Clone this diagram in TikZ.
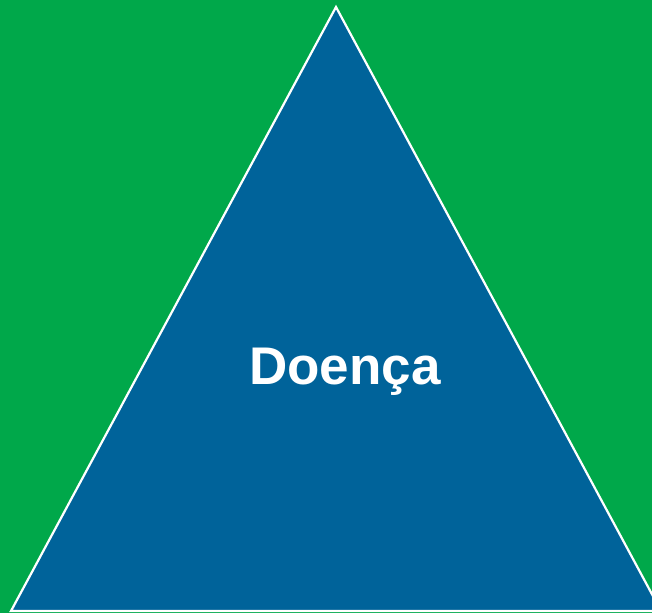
\documentclass[tikz,border=0pt]{standalone}
\usepackage{fontspec}
\setmainfont{Liberation Sans}
\definecolor{bggreen}{RGB}{0,168,74}
\definecolor{triblue}{RGB}{0,99,154}
\begin{document}
\begin{tikzpicture}[x=1pt,y=1pt]
\useasboundingbox (0,0) rectangle (652,613);
\fill[bggreen] (0,0) rectangle (652,613);
\begin{scope}
\clip (0,0) rectangle (652,613);
\draw[white, line width=2.2pt, fill=triblue, line join=miter] (336,606) -- (661,2) -- (11,2) -- cycle;
\end{scope}
\node[anchor=base, text=white, font=\bfseries\fontsize{53}{58}\selectfont, inner sep=0pt] (label) at (345,228) {Doença};
\end{tikzpicture}
\end{document}
